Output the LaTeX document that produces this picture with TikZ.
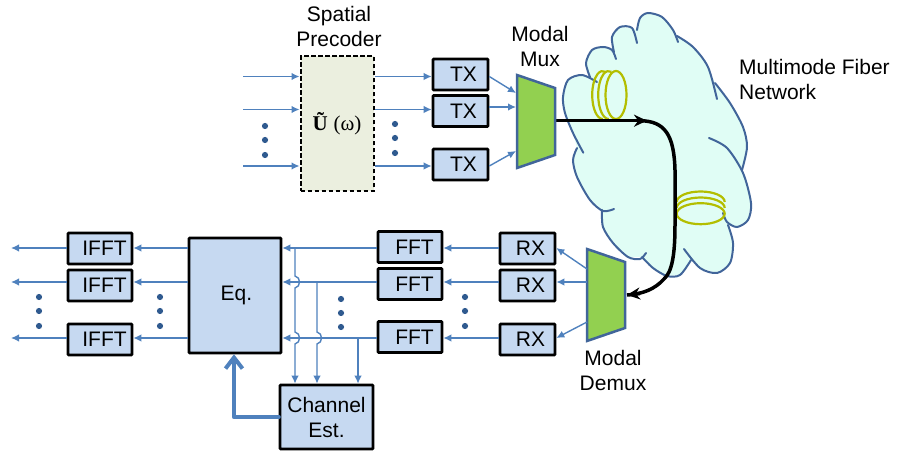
\documentclass[tikz,border=0pt]{standalone}
\usepackage{fontspec}
\setmainfont{Liberation Sans}
\newfontfamily\seriffont{Liberation Serif}
\usepackage{xcolor}
\usetikzlibrary{arrows.meta}
\definecolor{sigblue}{HTML}{4F81BD}
\definecolor{boxblue}{HTML}{C6D9F1}
\definecolor{dotblue}{HTML}{2F5A8F}
\definecolor{edgeblue}{HTML}{41659A}
\definecolor{muxgreen}{HTML}{92D050}
\definecolor{coilgreen}{HTML}{B3BE00}
\definecolor{cloudfill}{HTML}{E0FDF5}
\definecolor{precoderfill}{HTML}{EBEFDF}
\tikzset{
  sig/.style={sigblue, line width=1.4pt, -{Latex[length=8pt,width=7.5pt]}},
  block/.style={draw=black, line width=2.6pt, fill=boxblue, rounded corners=0.8pt, inner sep=0pt, align=center},
  shortbox/.style={block, minimum width=55, minimum height=31, execute at begin node={\hspace*{6pt}}},
  longbox/.style={block, minimum width=64, minimum height=31, execute at begin node={\hspace*{9pt}}},
  muxshape/.style={draw=edgeblue, line width=2.5pt, fill=muxgreen},
  cloudline/.style={edgeblue, line width=2pt, line cap=round},
  coil/.style={coilgreen, line width=2.2pt},
  fiber/.style={black, line width=3.5pt},
  dot/.style={dotblue},
}
\begin{document}
\begin{tikzpicture}[x=1pt,y=-1pt,every node/.style={font=\fontsize{21}{25}\selectfont}]
    \useasboundingbox (0,0) rectangle (897,454);

    % Cloud
    \fill[cloudfill] plot coordinates {(563,97) (568,80) (582,75) (590,77) (586,63) (592,50) (603,47) (612,50) (612,37) (620,27) (632,28) (637,30) (640,18) (648,13) (662,17) (673,30) (677,36) (693,47) (708,67) (715,83) (730,103) (743,127) (747,147) (742,170) (743,173) (751,203) (748,220) (737,227) (728,225) (733,243) (730,263) (717,273) (700,268) (691,260) (680,275) (667,276) (653,268) (642,257) (628,257) (613,243) (603,227) (602,210) (590,200) (577,177) (573,160) (577,148) (573,133) (565,113)} -- cycle;
    \draw[cloudline] plot[smooth] coordinates {(583.3,152.7) (573,133) (565,113) (563,97) (568,80) (582,75) (597,82)};
    \draw[cloudline] plot[smooth] coordinates {(590,77) (586,63) (592,50) (603,47) (612,50) (616,59)};
    \draw[cloudline] plot[smooth] coordinates {(614,52) (612,37) (620,27) (632,28) (637,43)};
    \draw[cloudline] plot[smooth] coordinates {(637,30) (640,18) (648,13) (662,17) (673,30) (678,42)};
    \draw[cloudline] plot[smooth] coordinates {(677,36) (693,47) (708,67) (717,99)};
    \draw[cloudline] plot[smooth] coordinates {(715,83) (730,103) (743,127) (747,147) (742,170)};
    \draw[cloudline] plot[smooth] coordinates {(709,138) (727,148) (743,173) (751,203) (748,220) (737,227) (727,222) (723,213)};
    \draw[cloudline] plot[smooth] coordinates {(728,225) (733,243) (730,263) (717,273) (700,268) (684,249)};
    \draw[cloudline] plot[smooth] coordinates {(691,260) (680,275) (667,276) (653,268) (642,257)};
    \draw[cloudline] plot[smooth] coordinates {(646,253) (640,259) (628,257) (613,243) (603,227) (602,210)};
    \draw[cloudline] plot[smooth] coordinates {(614,209) (603,211) (590,200) (577,177) (573,160) (577,148)};

    % Coils
    \draw[coil] (602.7,119) arc[start angle=90,end angle=285,x radius=10.5,y radius=24];
    \draw[coil] (608.7,119) arc[start angle=90,end angle=285,x radius=10.5,y radius=24];
    \draw[coil] (616,95) ellipse[x radius=10.5,y radius=24];
    \draw[coil] (676.7,202) arc[start angle=180,end angle=360,x radius=24,y radius=10.5];
    \draw[coil] (676.7,208) arc[start angle=180,end angle=360,x radius=24,y radius=10.5];
    \draw[coil] (700.7,213.7) ellipse[x radius=24,y radius=10.5];

    % Fiber
    \coordinate (fibermid) at (647,120.7);
    \coordinate (fiberend) at (627,295);
    \draw[fiber] (640,120.7) .. controls (665,121) and (674,135) .. (675,170) -- (675,225) .. controls (675,255) and (672,272) .. (664,279) .. controls (655,289) and (643,294) .. (fiberend);
    \draw[fiber,-{Stealth[length=13pt,width=12pt]}] (555,120.7) -- (fibermid);
    \draw[fiber,-{Stealth[length=13pt,width=12pt]}] (640,293.5) -- (fiberend);

    % Mux and demux
    \draw[muxshape] (517,75) -- (555,88) -- (555,155) -- (517,168) -- cycle;
    \draw[muxshape] (587,249) -- (625,262) -- (625,328) -- (587,341) -- cycle;

    % Transmit side
    \node[draw=black, dash pattern=on 4.5pt off 2.5pt, line width=2pt, fill=precoderfill, minimum width=73, minimum height=135, inner sep=0pt] (precoder) at (337,124) {{\seriffont\bfseries Ũ} {\seriffont(ω)}};
    \node[shortbox] (tx1) at (460.5,74.5) {TX};
    \node[shortbox] (tx2) at (460.5,111) {TX};
    \node[shortbox] (tx3) at (460.5,164.5) {TX};
    \coordinate (in1) at (243,76.5);
    \coordinate (in2) at (243,109.5);
    \coordinate (in3) at (243,166);
    \coordinate (muxa) at (516,93);
    \coordinate (muxb) at (516,107);
    \coordinate (muxc) at (516,151);
    \draw[sig] (in1) -- (in1 -| precoder.west);
    \draw[sig] (in2) -- (in2 -| precoder.west);
    \draw[sig] (in3) -- (in3 -| precoder.west);
    \draw[sig] (in1 -| precoder.east) -- (in1 -| tx1.west);
    \draw[sig] (in2 -| precoder.east) -- (in2 -| tx2.west);
    \draw[sig] (in3 -| precoder.east) -- (in3 -| tx3.west);
    \draw[sig] (in1 -| tx1.east) -- (muxa);
    \draw[sig] (muxb -| tx2.east) -- (muxb);
    \draw[sig] (in3 -| tx3.east) -- (muxc);

    % Receive side
    \node[shortbox] (rx1) at (527.5,248.5) {RX};
    \node[shortbox] (rx2) at (527.5,285.5) {RX};
    \node[shortbox] (rx3) at (527.5,339.5) {RX};
    \node[longbox] (fft1) at (410,247) {FFT};
    \node[longbox] (fft2) at (410,284) {FFT};
    \node[longbox] (fft3) at (410,337) {FFT};
    \node[longbox] (ifft1) at (100,248.5) {IFFT};
    \node[longbox] (ifft2) at (100,285.5) {IFFT};
    \node[longbox] (ifft3) at (100,339.5) {IFFT};
    \node[block, minimum width=92, minimum height=115] (eq) at (235,295.5) {\hspace*{3pt}Eq.};
    \node[block, minimum width=93, minimum height=64] (chan) at (326.5,417) {Channel\\Est.};
    \coordinate (rowa) at (11,248);
    \coordinate (rowb) at (11,282);
    \coordinate (rowc) at (11,338);
    \coordinate (dema) at (587,269);
    \coordinate (demb) at (587,282);
    \coordinate (demc) at (587,322);
    \draw[sig] (dema) -- (rowa -| rx1.east);
    \draw[sig] (demb) -- (rowb -| rx2.east);
    \draw[sig] (demc) -- (rowc -| rx3.east);
    \draw[sig] (rowa -| rx1.west) -- (rowa -| fft1.east);
    \draw[sig] (rowb -| rx2.west) -- (rowb -| fft2.east);
    \draw[sig] (rowc -| rx3.west) -- (rowc -| fft3.east);
    \draw[sig] (rowa -| fft1.west) -- (rowa -| eq.east);
    \draw[sig] (rowb -| fft2.west) -- (rowb -| eq.east);
    \draw[sig] (rowc -| fft3.west) -- (rowc -| eq.east);
    \draw[sig] (rowa -| eq.west) -- (rowa -| ifft1.east);
    \draw[sig] (rowb -| eq.west) -- (rowb -| ifft2.east);
    \draw[sig] (rowc -| eq.west) -- (rowc -| ifft3.east);
    \draw[sig] (rowa -| ifft1.west) -- (rowa);
    \draw[sig] (rowb -| ifft2.west) -- (rowb);
    \draw[sig] (rowc -| ifft3.west) -- (rowc);

    % Taps into channel estimator, hopping over the rows
    \coordinate (tapa) at (295,248);
    \coordinate (tapb) at (317,282);
    \coordinate (tapc) at (358,338);
    \draw[sig] (tapa) -- (295,276) .. controls (301,277) and (301,287) .. (295,288) -- (295,332) .. controls (301,333) and (301,343) .. (295,344) -- (tapa |- chan.north);
    \draw[sig] (tapb) -- (317,332) .. controls (323,333) and (323,343) .. (317,344) -- (tapb |- chan.north);
    \draw[sig] (tapc) -- (tapc |- chan.north);
    \coordinate (feedback) at (234,417);
    \draw[sigblue, line width=4.2pt, line cap=round, line join=round, -{Straight Barb[length=11pt,width=17pt,line width=4pt]}] (chan.west) -- (feedback) -- (feedback |- eq.south);

    % Dots
    \fill[dot] (265,126) circle[radius=3.1] (265,140) circle[radius=3.1] (265,155) circle[radius=3.1];
    \fill[dot] (395,124) circle[radius=3.1] (395,138) circle[radius=3.1] (395,153) circle[radius=3.1];
    \fill[dot] (39,297) circle[radius=3.1] (39,311) circle[radius=3.1] (39,326) circle[radius=3.1];
    \fill[dot] (160,297) circle[radius=3.1] (160,311) circle[radius=3.1] (160,326) circle[radius=3.1];
    \fill[dot] (341,299) circle[radius=3.1] (341,313) circle[radius=3.1] (341,327) circle[radius=3.1];
    \fill[dot] (465,297) circle[radius=3.1] (465,311) circle[radius=3.1] (465,326) circle[radius=3.1];

    % Labels
    \node[align=center] (precoderlabel) at (339,26) {Spatial\\Precoder};
    \node[align=center] (muxlabel) at (540,46) {Modal\\Mux};
    \node[align=center] (demuxlabel) at (613,370) {Modal\\Demux};
    \node[align=left, anchor=west, inner sep=0pt] (cloudlabel) at (739,79.5) {Multimode Fiber\\Network};
\end{tikzpicture}
\end{document}
